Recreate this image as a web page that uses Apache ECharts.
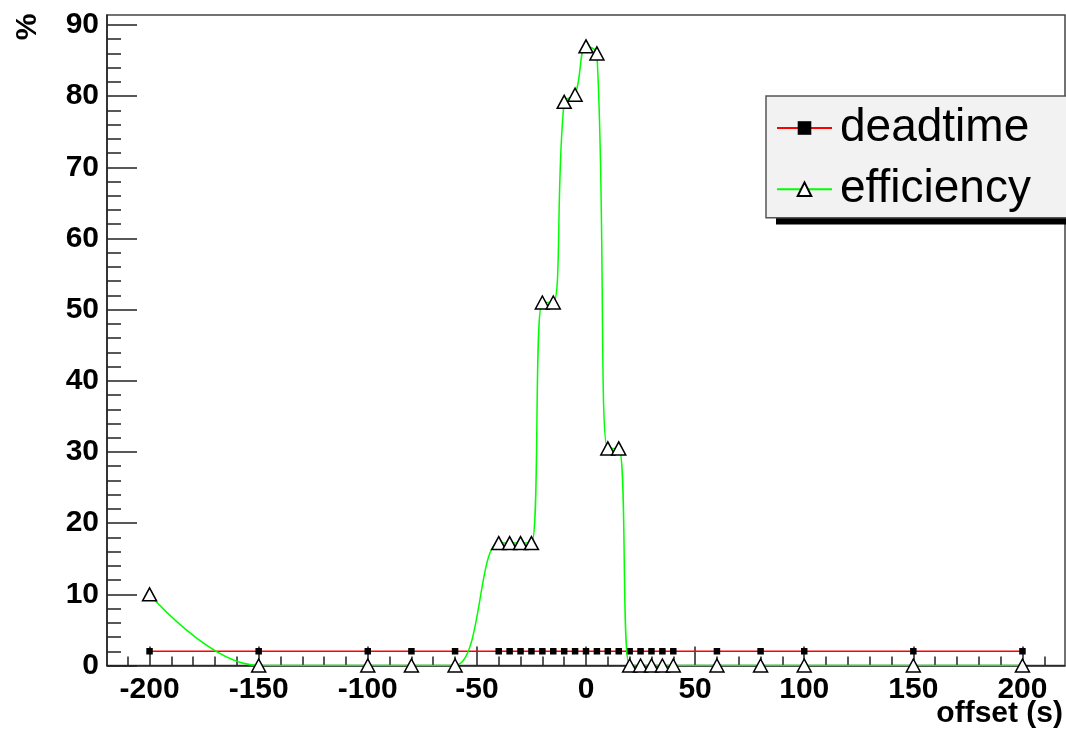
<!DOCTYPE html>
<html>
<head>
<meta charset="utf-8">
<script src="https://cdn.jsdelivr.net/npm/echarts@6/dist/echarts.min.js"></script>
<style>
html,body{margin:0;padding:0;background:#fff;}
#chart{width:1066px;height:731px;}
</style>
</head>
<body>
<div id="chart"></div>
<script>
// ---- data ----
const offsets = [-200,-150,-100,-80,-60,-40,-35,-30,-25,-20,-15,-10,-5,0,5,10,15,20,25,30,35,40,60,80,100,150,200];
const deadtime = [2,2,2,2,2,2,2,2,2,2,2,2,2,2,2,2,2,2,2,2,2,2,2,2,2,2,2];
const efficiency = [10,0,0,0,0,17.2,17.2,17.2,17.2,51,51,79.2,80.2,87,86,30.5,30.5,0,0,0,0,0,0,0,0,0,0];
const xMajorTicks = [-200,-150,-100,-50,0,50,100,150,200];
const xMinorTicks = [-210,-200,-190,-180,-170,-160,-150,-140,-130,-120,-110,-100,-90,-80,-70,-60,-50,-40,-30,-20,-10,0,10,20,30,40,50,60,70,80,90,100,110,120,130,140,150,160,170,180,190,200,210];
const yMajorTicks = [0,10,20,30,40,50,60,70,80,90];
const yMinorTicks = [0,2,4,6,8,10,12,14,16,18,20,22,24,26,28,30,32,34,36,38,40,42,44,46,48,50,52,54,56,58,60,62,64,66,68,70,72,74,76,78,80,82,84,86,88,90];

const FONT = 'Liberation Sans';
const pair = (xs, ys) => xs.map((x, i) => [x, ys[i]]);

const chart = echarts.init(document.getElementById('chart'), null, {renderer: 'canvas'});
const axisCommon = {
  type: 'value',
  splitLine: {show: false}
};
chart.setOption({
  animation: false,
  backgroundColor: '#ffffff',
  grid: {
    left: 107, top: 15, right: 1, bottom: 65.5,
    show: true, borderColor: '#444', borderWidth: 1.5, backgroundColor: '#fff'
  },
  xAxis: [
    Object.assign({}, axisCommon, {
      min: -219.5, max: 219.5, position: 'bottom',
      axisLine: {show: true, onZero: false, lineStyle: {color: '#222', width: 1.5}},
      axisTick: {show: true, inside: true, length: 19, customValues: xMajorTicks, lineStyle: {color: '#222', width: 1.5}},
      axisLabel: {show: true, customValues: xMajorTicks, margin: 9, color: '#000',
        fontFamily: FONT, fontWeight: 'bold', fontSize: 30}
    }),
    Object.assign({}, axisCommon, {
      min: -219.5, max: 219.5, position: 'bottom',
      axisLine: {show: false, onZero: false},
      axisTick: {show: true, inside: true, length: 9, customValues: xMinorTicks, lineStyle: {color: '#222', width: 1.5}},
      axisLabel: {show: false}
    })
  ],
  yAxis: [
    Object.assign({}, axisCommon, {
      min: 0, max: 91.4, position: 'left',
      axisLine: {show: true, onZero: false, lineStyle: {color: '#222', width: 1.5}},
      axisTick: {show: true, inside: true, length: 30, customValues: yMajorTicks, lineStyle: {color: '#222', width: 1.5}},
      axisLabel: {show: true, customValues: yMajorTicks, margin: 8, color: '#000',
        fontFamily: FONT, fontWeight: 'bold', fontSize: 30}
    }),
    Object.assign({}, axisCommon, {
      min: 0, max: 91.4, position: 'left',
      axisLine: {show: false, onZero: false},
      axisTick: {show: true, inside: true, length: 14, customValues: yMinorTicks, lineStyle: {color: '#222', width: 1.5}},
      axisLabel: {show: false}
    })
  ],
  legend: {
    orient: 'vertical',
    left: 766, top: 96,
    padding: [9, 40, 5.5, 10],
    itemWidth: 55, itemHeight: 17, itemGap: 15.2,
    backgroundColor: '#f2f2f2',
    borderColor: '#555', borderWidth: 1.5,
    selectedMode: false,
    z: 5,
    textStyle: {fontFamily: FONT, fontSize: 46, lineHeight: 44, color: '#000', padding: [0, 0, 0, 3]},
    data: ['deadtime', 'efficiency']
  },
  graphic: [
    {type: 'rect', z: 4, shape: {x: 776, y: 102, width: 320, height: 122.5},
      style: {fill: '#000'}, silent: true},
    {type: 'text', x: 28, y: 27, rotation: Math.PI / 2,
      style: {text: '%', font: 'bold 30px "Liberation Sans"', fill: '#000', align: 'center', verticalAlign: 'middle'}},
    {type: 'text', x: 1063, y: 714,
      style: {text: 'offset (s)', font: 'bold 30px "Liberation Sans"', fill: '#000', align: 'right', verticalAlign: 'middle'}}
  ],
  series: [
    {
      name: 'deadtime', type: 'line', xAxisIndex: 0, yAxisIndex: 0,
      data: pair(offsets, deadtime),
      symbol: 'rect', symbolSize: 6.5, showSymbol: true,
      lineStyle: {color: '#ff0000', width: 1.5},
      itemStyle: {color: '#000', borderWidth: 0},
      z: 2
    },
    {
      name: 'efficiency', type: 'line', xAxisIndex: 0, yAxisIndex: 0,
      data: pair(offsets, efficiency),
      smooth: 0.4,
      symbol: 'triangle', symbolSize: [14, 13], showSymbol: true,
      lineStyle: {color: '#00ff00', width: 1.5},
      itemStyle: {color: '#ffffff', borderColor: '#000', borderWidth: 1.5},
      z: 3
    }
  ]
});
</script>
</body>
</html>
